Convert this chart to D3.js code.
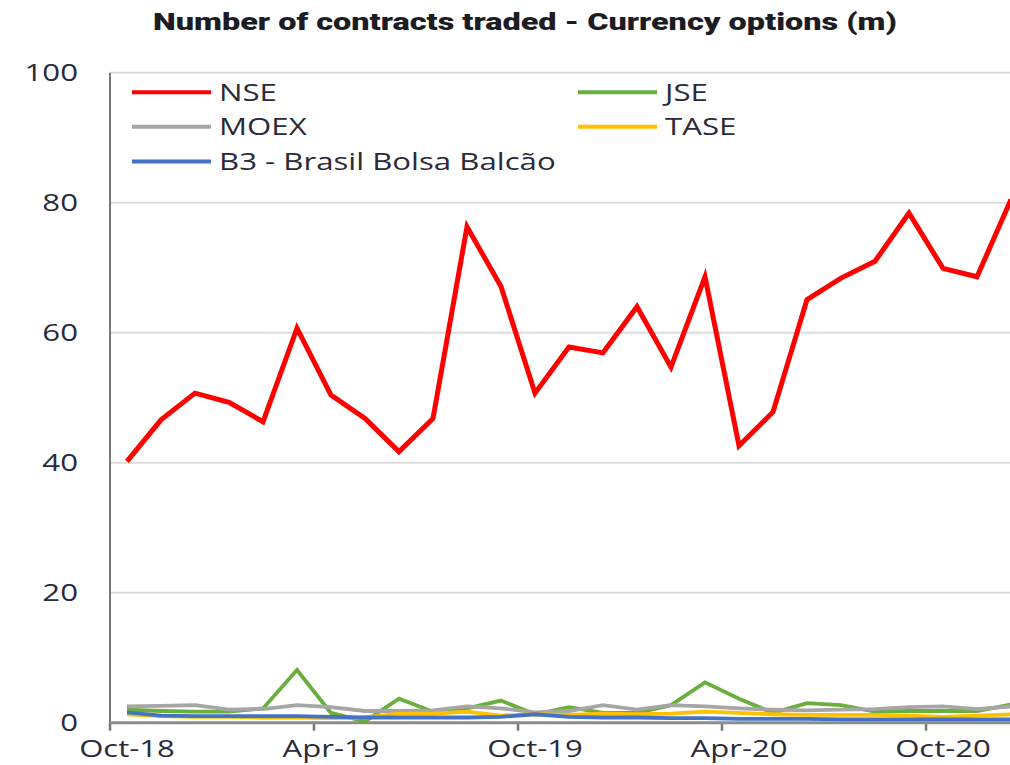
<!DOCTYPE html>
<html>
<head>
<meta charset="utf-8">
<script src="https://cdn.jsdelivr.net/npm/d3@7"></script>
<style>
  body { margin: 0; background: #ffffff; }
  #chartParent { width: 1010px; height: 765px; overflow: hidden; }
  text { font-family: "Open Sans", "DejaVu Sans", sans-serif; fill: #2a2a38; }
</style>
</head>
<body>
<div id="chartParent"></div>
<script>
// months on the category axis (Oct-18 .. Dec-20)
const months = ["Oct-18","Nov-18","Dec-18","Jan-19","Feb-19","Mar-19","Apr-19","May-19","Jun-19",
                "Jul-19","Aug-19","Sep-19","Oct-19","Nov-19","Dec-19","Jan-20","Feb-20","Mar-20",
                "Apr-20","May-20","Jun-20","Jul-20","Aug-20","Sep-20","Oct-20","Nov-20","Dec-20"];
// only every 6th month gets a label
const xTickLabels = ["Oct-18","Apr-19","Oct-19","Apr-20","Oct-20"];
const yTicks = [0, 20, 40, 60, 80, 100];

// contracts traded, millions
const nse   = [40.2,46.6,50.7,49.3,46.3,60.7,50.4,46.8,41.7,46.8,76.3,67.1,50.7,57.8,56.9,64.0,54.7,68.6,42.6,47.8,65.1,68.4,71.0,78.4,69.9,68.6,80.5];
const jse   = [2.0,1.8,1.7,1.7,2.2,8.1,1.5,0.2,3.7,1.7,2.2,3.4,1.3,2.4,1.5,1.5,2.7,6.2,3.7,1.5,3.0,2.7,1.7,1.8,1.8,1.8,2.8];
const moex  = [2.5,2.6,2.7,2.0,2.1,2.7,2.4,1.8,1.8,1.9,2.5,2.2,1.6,1.8,2.7,2.0,2.7,2.5,2.2,2.0,1.9,2.0,2.1,2.4,2.5,2.1,2.5];
const tase  = [1.3,1.0,0.9,0.9,0.8,0.8,0.7,0.8,1.4,1.4,1.7,1.1,1.3,1.2,1.4,1.3,1.4,1.7,1.5,1.3,1.2,1.2,1.2,1.1,0.9,1.1,1.3];
const b3    = [1.6,1.1,1.0,1.0,1.0,1.0,0.9,0.8,0.8,0.8,0.8,0.9,1.3,0.9,0.8,0.8,0.7,0.7,0.6,0.6,0.6,0.5,0.5,0.5,0.5,0.5,0.5];

const seriesNames  = ["NSE", "JSE", "MOEX", "TASE", "B3 - Brasil Bolsa Balcão"];
const seriesValues = [nse, jse, moex, tase, b3];
const seriesColors = ["#ff0000", "#6aae3e", "#a6a6a6", "#ffc000", "#4472c4"];

const W = 1010, H = 765;
// the picture is stretched sideways, so text gets squashed the same way
const SX = 1.3;

var svg = d3.select("#chartParent")
  .append("svg")
  .attr("width", W)
  .attr("height", H);

// plot runs off the right edge, like the original screenshot
const plotLeft = 110, step = 34;
var x = d3.scaleBand()
  .domain(months)
  .range([plotLeft, plotLeft + step * months.length])
  .padding(0);
var y = d3.scaleLinear()
  .domain([0, 100])
  .range([722.7, 72.7]);

const cx = d => x(d) + x.bandwidth() / 2;

// gridlines
svg.append("g")
  .selectAll("line")
  .data(yTicks.filter(t => t > 0))
  .enter()
  .append("line")
    .attr("x1", plotLeft)
    .attr("x2", W + 20)
    .attr("y1", d => y(d))
    .attr("y2", d => y(d))
    .attr("stroke", "#dcdcdc")
    .attr("stroke-width", 2);

// y axis - labels right aligned, no tick marks
var yAxis = svg.append("g")
  .attr("transform", `translate(${plotLeft},0)`)
  .call(d3.axisLeft(y).tickValues(yTicks).tickSize(0).tickPadding(0));
yAxis.select(".domain").remove();
yAxis.selectAll(".tick text")
  .attr("x", null).attr("dy", null)
  .attr("text-anchor", "end")
  .attr("font-size", 24)
  .attr("transform", `translate(-32,8) scale(${SX},1)`)
  .style("fill", "#2a2a38");

svg.append("line")
  .attr("x1", plotLeft).attr("x2", plotLeft)
  .attr("y1", y(100)).attr("y2", y(0))
  .attr("stroke", "#777777")
  .attr("stroke-width", 2);

// x axis: labels at band centres, tick marks on band edges
var xAxis = svg.append("g")
  .attr("transform", `translate(0,${y(0)})`)
  .call(d3.axisBottom(x).tickValues(xTickLabels).tickSize(0).tickPadding(0));
xAxis.select(".domain").remove();
xAxis.selectAll(".tick text")
  .attr("y", null).attr("dy", null)
  .attr("text-anchor", "middle")
  .attr("font-size", 23)
  .attr("transform", `translate(0,34.5) scale(${SX * 1.04},1)`)
  .style("fill", "#2a2a38");

svg.append("g")
  .selectAll("line")
  .data(xTickLabels)
  .enter()
  .append("line")
    .attr("x1", d => x(d)).attr("x2", d => x(d))
    .attr("y1", y(0)).attr("y2", y(0) + 8)
    .attr("stroke", "#777777")
    .attr("stroke-width", 2.5);

svg.append("line")
  .attr("x1", plotLeft).attr("x2", W + 20)
  .attr("y1", y(0)).attr("y2", y(0))
  .attr("stroke", "#8c8c8c")
  .attr("stroke-width", 3);

// the lines
var line = d3.line()
  .x((d, i) => cx(months[i]))
  .y(d => y(d));

svg.append("g")
  .selectAll("path")
  .data(seriesValues)
  .enter()
  .append("path")
    .attr("d", d => line(d))
    .attr("fill", "none")
    .attr("stroke", (d, i) => seriesColors[i])
    .attr("stroke-width", (d, i) => i == 0 ? 5 : 3.8)
    .attr("stroke-linejoin", "miter");

// legend, two columns, filled row by row
const legendCols = [132, 578];
const legendRows = [92.3, 126.8, 161.5];
var legend = svg.append("g")
  .selectAll("g")
  .data(seriesNames)
  .enter()
  .append("g")
    .attr("transform", (d, i) => `translate(${legendCols[i % 2]},${legendRows[Math.floor(i / 2)]})`);
legend.append("line")
  .attr("x1", 0).attr("x2", 79)
  .attr("stroke", (d, i) => seriesColors[i])
  .attr("stroke-width", 4);
legend.append("text")
  .text(d => d)
  .attr("font-size", 24)
  .attr("transform", `translate(87,8.5) scale(${SX},1)`);

// title - bold, stretched to the width in the picture
var title = svg.append("text")
  .text("Number of contracts traded - Currency options (m)")
  .attr("font-size", 24)
  .attr("font-weight", 900)
  .style("font-family", "Roboto, 'Liberation Sans', sans-serif")
  .style("fill", "#1c1c24")
  .attr("text-anchor", "middle");
const tw = title.node().getComputedTextLength();
title.attr("transform", `translate(525,30) scale(${744 / tw},1)`);
</script>
</body>
</html>
